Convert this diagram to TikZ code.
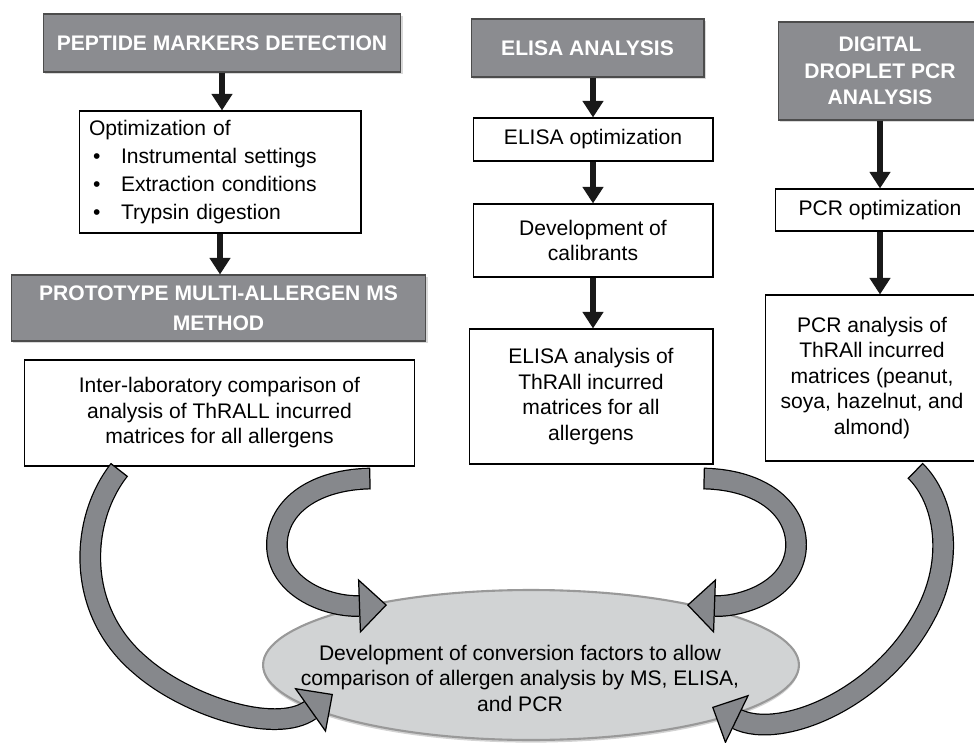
\documentclass[tikz,border=0pt]{standalone}
\usepackage{fontspec}
\setmainfont{Liberation Sans}
\usetikzlibrary{arrows.meta,positioning,calc,shapes.geometric,shadows}
\definecolor{hdrgray}{RGB}{139,140,144}
\definecolor{ribgray}{RGB}{134,136,140}
\definecolor{goalgray}{RGB}{209,211,212}
\newcommand{\bul}{\makebox[0.64cm][l]{\hspace{0.08cm}\textbullet}}

\begin{document}
\begin{tikzpicture}
	[x=0.02cm,y=-0.02cm,
	every node/.append style={font=\fontsize{12}{14.5}\selectfont},
	header/.style={rectangle,draw=black!70,line width=0.6pt,fill=hdrgray,text=white,align=center,inner sep=0pt,
		font=\fontsize{12}{15}\selectfont\bfseries,drop shadow={opacity=0.3,shadow xshift=1.2pt,shadow yshift=-1.2pt}},
	stepbox/.style={rectangle,draw=black,line width=0.6pt,fill=white,align=center,inner sep=0pt},
	goal/.style={ellipse,draw=black!40,line width=1.2pt,fill=goalgray,inner sep=0pt,
		drop shadow={opacity=0.35,shadow xshift=0pt,shadow yshift=-1.5pt}},
	flow/.style={draw=black!90,line width=3.2pt,-{Triangle[length=9.5pt,width=11.5pt]}},
	ribbon/.style={draw=black,line width=0.7pt,double=ribgray,double distance=11pt,
		{Bar[width=12.4pt,line width=0.7pt]}-{Triangle[length=16pt,width=31pt,fill=ribgray,line width=0.7pt]}},
	]
	\useasboundingbox (0,0) rectangle (974,743);
	\clip (0,0) rectangle (974,743);

	\node[header,minimum width=7.16cm,minimum height=1.16cm] (pep) at (222,43) {PEPTIDE MARKERS DETECTION};
	\node[stepbox,text width=5.24cm,inner xsep=0.2cm,minimum height=2.44cm,align=left,font=\fontsize{12}{16}\selectfont] (opt) at (220,172)
		{Optimization of\\ \bul Instrumental settings\\ \bul Extraction conditions\\ \bul Trypsin digestion};
	\node[header,minimum width=8.3cm,minimum height=1.32cm,font=\fontsize{12}{17}\selectfont\bfseries] (proto) at (218.5,308)
		{PROTOTYPE MULTI-ALLERGEN MS\\METHOD};
	\node[stepbox,minimum width=7.82cm,minimum height=2.12cm] (lab) at (219.5,413)
		{Inter-laboratory comparison of\\analysis of ThRALL incurred\\matrices for all allergens};

	\node[header,minimum width=4.66cm,minimum height=1.16cm] (elisa) at (587.5,48) {ELISA ANALYSIS};
	\node[stepbox,minimum width=4.8cm,minimum height=0.86cm] (eopt) at (593,139.5) {ELISA optimization};
	\node[stepbox,minimum width=4.8cm,minimum height=1.46cm] (calib) at (593,240.5) {Development of\\calibrants};
	\node[stepbox,minimum width=4.88cm,minimum height=2.7cm] (eana) at (591,396.5)
		{ELISA analysis of\\ThRAll incurred\\matrices for all\\allergens};

	\node[header,minimum width=4.08cm,minimum height=1.96cm] (ddpcr) at (880,71) {DIGITAL\\DROPLET PCR\\ANALYSIS};
	\node[stepbox,minimum width=4.2cm,minimum height=0.84cm] (popt) at (880,210) {PCR optimization};
	\node[stepbox,minimum width=4.28cm,minimum height=3.32cm] (pana) at (872,378)
		{PCR analysis of\\ThRAll incurred\\matrices (peanut,\\soya, hazelnut, and\\almond)};

	\node[goal,minimum width=10.72cm,minimum height=3cm] (goal) at (531,665) {};
	\node[align=center] (goaltext) at (520,678)
		{Development of conversion factors to allow\\comparison of allergen analysis by MS, ELISA,\\and PCR};

	\draw[flow] (pep.south) -- (pep.south |- opt.north);
	\draw[flow] (opt.south) -- (opt.south |- proto.north);
	\draw[flow] (eopt.north |- elisa.south) -- (eopt.north);
	\draw[flow] (eopt.south) -- (calib.north);
	\draw[flow] (calib.south) -- (calib.south |- eana.north);
	\draw[flow] (ddpcr.south) -- (popt.north);
	\draw[flow] (popt.south) -- (popt.south |- pana.north);

	\draw[ribbon] ($(lab.south west)+(96,3)$) .. controls (80,520) and (75,610) .. (140,665)
		.. controls (185,705) and (275,735) .. ($(goal.center)+(-198,29)$);
	\draw[ribbon] ($(lab.south east)+(-45,12)$) .. controls (310,480) and (275,510) .. (277,548)
		.. controls (280,590) and (330,607) .. ($(goal.center)+(-144,-60)$);
	\draw[ribbon] ($(eana.south east)+(-10,14)$) .. controls (763,480) and (798,510) .. (796,548)
		.. controls (793,590) and (743,607) .. ($(goal.center)+(156,-60)$);
	\draw[ribbon] ($(pana.south)+(43,9)$) .. controls (945,500) and (955,560) .. (925,615)
		.. controls (880,700) and (780,740) .. ($(goal.center)+(181,42)$);
\end{tikzpicture}
\end{document}
